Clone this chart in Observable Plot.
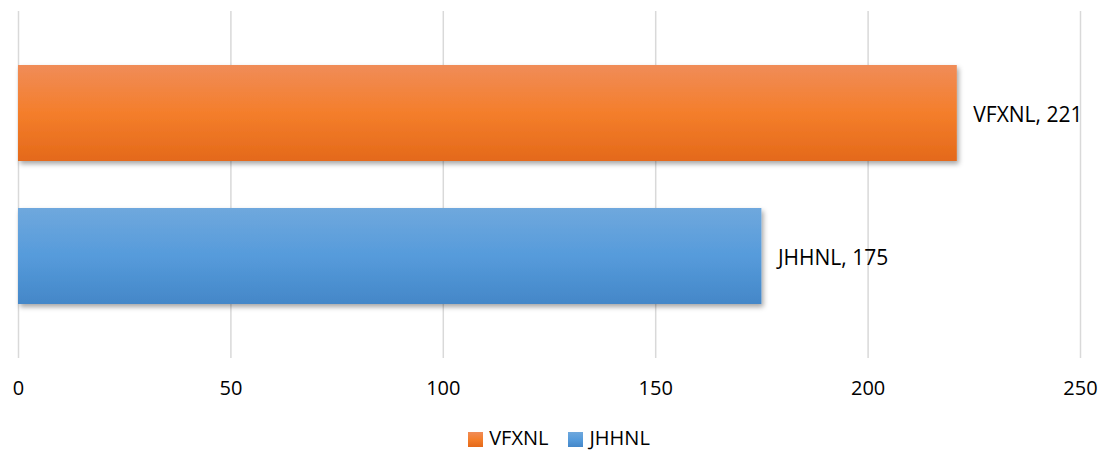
<!DOCTYPE html>
<html>
<head>
<meta charset="utf-8">
<script src="https://cdn.jsdelivr.net/npm/d3@7"></script>
<script src="https://cdn.jsdelivr.net/npm/@observablehq/plot@0.6"></script>
<style>
  html, body { margin: 0; padding: 0; background: #fff; overflow: hidden; }
  #chart { width: 1101px; }
  .legend { display: flex; justify-content: center; align-items: center; font-family: "Open Sans", sans-serif; font-size: 20px; line-height: 20px; color: #000; height: 46px; padding-left: 17px; padding-top: 22px; box-sizing: border-box; }
  .legend .item { display: flex; align-items: center; margin: 0 10px; height: 20px; }
  .legend .sw { width: 15px; height: 15px; margin-right: 6px; margin-top: 3px; }
</style>
</head>
<body>
<div id="chart"></div>
<script>
const categories = ["VFXNL", "JHHNL"];
const values = [221, 175];
const xTicks = [0, 50, 100, 150, 200, 250];

const data = categories.map((c, i) => ({name: c, value: values[i], grad: "url(#grad" + i + ")"}));

const chart = Plot.plot({
  width: 1101,
  height: 404,
  marginLeft: 18,
  marginRight: 21,
  marginTop: 11,
  marginBottom: 46,
  style: {fontFamily: "'Open Sans', sans-serif", fontSize: "20px", background: "#fff"},
  x: {domain: [0, 250], label: null},
  y: {domain: categories, axis: null, paddingInner: 0.33, paddingOuter: 0.378},
  marks: [
    Plot.gridX(xTicks, {stroke: "#d9d9d9", strokeOpacity: 1, strokeWidth: 1.5}),
    ...data.map(d => Plot.barX([d], {x: "value", y: "name", fill: d.grad})),
    Plot.text(data, {x: "value", y: "name", text: d => `${d.name}, ${d.value}`, dx: 16, dy: 2, textAnchor: "start", fontSize: 21, fill: "#000"}),
    Plot.axisX(xTicks, {tickSize: 0, tickPadding: 22, fontSize: 20, fill: "#000", label: null, tickFormat: d => String(d)})
  ]
});

const svg = d3.select(chart);
const defs = svg.insert("defs", ":first-child");
const grads = [
  [["0%", "#F08C58"], ["50%", "#F47E2B"], ["100%", "#E4691A"]],
  [["0%", "#6FA8DD"], ["50%", "#569BDB"], ["100%", "#4487C8"]]
];
grads.forEach((stops, i) => {
  const g = defs.append("linearGradient").attr("id", "grad" + i).attr("x1", 0).attr("y1", 0).attr("x2", 0).attr("y2", 1);
  stops.forEach(([o, c]) => g.append("stop").attr("offset", o).attr("stop-color", c));
});
const f = defs.append("filter").attr("id", "shadow").attr("x", "-5%").attr("y", "-20%").attr("width", "115%").attr("height", "150%");
f.append("feDropShadow").attr("dx", 2).attr("dy", 3).attr("stdDeviation", 2.5).attr("flood-color", "#000").attr("flood-opacity", 0.35);
svg.selectAll("g[aria-label='bar'] rect").attr("filter", "url(#shadow)");

document.getElementById("chart").appendChild(chart);

const legend = document.createElement("div");
legend.className = "legend";
categories.forEach((c, i) => {
  const item = document.createElement("div");
  item.className = "item";
  const sw = document.createElement("span");
  sw.className = "sw";
  sw.style.background = `linear-gradient(${grads[i][0][1]}, ${grads[i][1][1]}, ${grads[i][2][1]})`;
  const t = document.createElement("span");
  t.textContent = c;
  item.appendChild(sw); item.appendChild(t);
  legend.appendChild(item);
});
document.getElementById("chart").appendChild(legend);
</script>
</body>
</html>
